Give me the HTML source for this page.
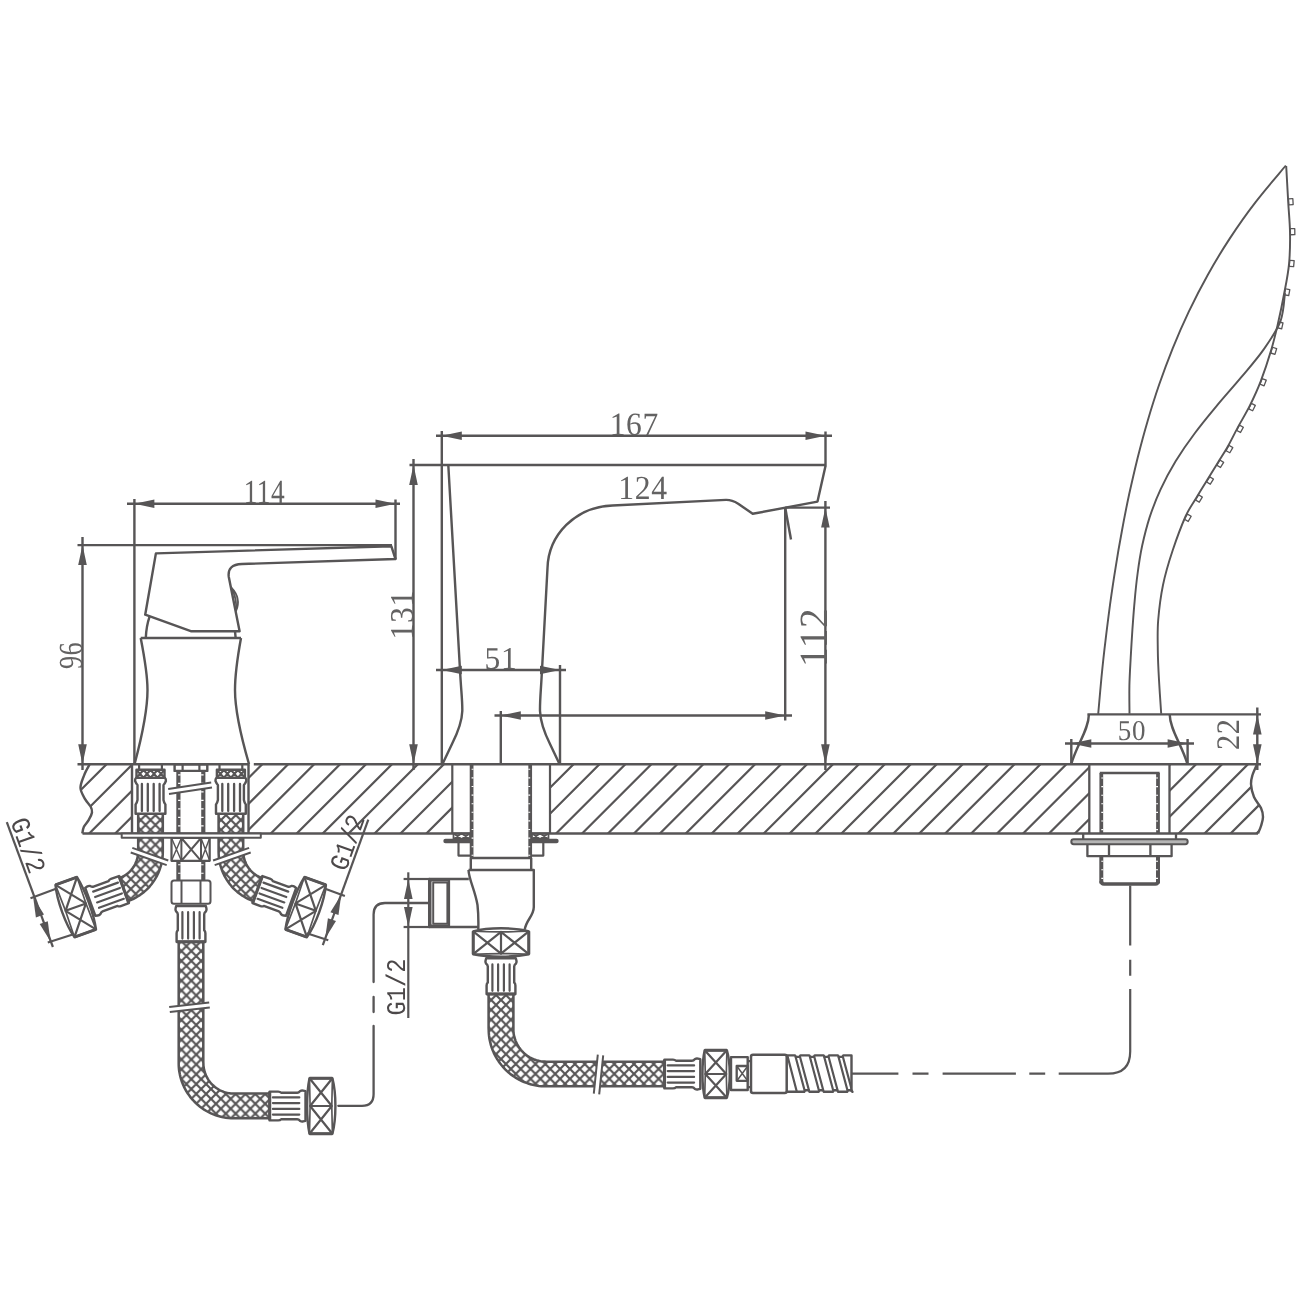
<!DOCTYPE html>
<html><head><meta charset="utf-8"><title>Dimension drawing</title>
<style>
html,body{margin:0;padding:0;background:#fff;}
svg{display:block;will-change:transform;}
text{text-rendering:geometricPrecision;}
.num{font-family:"Liberation Serif","DejaVu Serif",serif;fill:#636262;stroke:none;letter-spacing:0.7px;}
.g{font-family:"Liberation Mono","DejaVu Sans Mono",monospace;fill:#4c4849;stroke:none;stroke-width:0;stroke-linejoin:round;}
</style></head>
<body>
<svg width="1300" height="1300" viewBox="0 0 1300 1300" fill="none" stroke="#575556" stroke-width="2" stroke-linecap="butt" stroke-linejoin="round">
<rect x="0" y="0" width="1300" height="1300" fill="#fff" stroke="none"/>
<g id="slab">
<clipPath id="slabclip"><path d="M89.7 764.3 L84.2 775.1 L80.5 788 L85.1 799.1 L90.6 806.5 L92 812.5 L88.8 819.8 L83.9 826.8 L82.3 833.5 L132 833.5 L132 764.3 Z M248.5 764.3 L452.3 764.3 L452.3 833.5 L248.5 833.5 Z M550 764.3 L1090 764.3 L1090 833.5 L550 833.5 Z M1170 764.3 L1257 764.3 L1252.5 775 L1251 784 L1254 797 L1261 808 L1263 817 L1261 826 L1258 833.5 L1170 833.5 Z"/></clipPath>
<g clip-path="url(#slabclip)">
<path d="M9.4 835.5L82.6 762.3M35.3 835.5L108.5 762.3M61.3 835.5L134.5 762.3M87.2 835.5L160.4 762.3M113.2 835.5L186.4 762.3M139.1 835.5L212.3 762.3M165 835.5L238.2 762.3M191 835.5L264.2 762.3M216.9 835.5L290.1 762.3M242.9 835.5L316.1 762.3M268.8 835.5L342 762.3M294.7 835.5L367.9 762.3M320.7 835.5L393.9 762.3M346.6 835.5L419.8 762.3M372.6 835.5L445.8 762.3M398.5 835.5L471.7 762.3M424.4 835.5L497.6 762.3M450.4 835.5L523.6 762.3M476.3 835.5L549.5 762.3M502.3 835.5L575.5 762.3M528.2 835.5L601.4 762.3M554.1 835.5L627.3 762.3M580.1 835.5L653.3 762.3M606 835.5L679.2 762.3M632 835.5L705.2 762.3M657.9 835.5L731.1 762.3M683.8 835.5L757 762.3M709.8 835.5L783 762.3M735.7 835.5L808.9 762.3M761.7 835.5L834.9 762.3M787.6 835.5L860.8 762.3M813.5 835.5L886.7 762.3M839.5 835.5L912.7 762.3M865.4 835.5L938.6 762.3M891.4 835.5L964.6 762.3M917.3 835.5L990.5 762.3M943.2 835.5L1016.4 762.3M969.2 835.5L1042.4 762.3M995.1 835.5L1068.3 762.3M1021.1 835.5L1094.3 762.3M1047 835.5L1120.2 762.3M1072.9 835.5L1146.1 762.3M1098.9 835.5L1172.1 762.3M1124.8 835.5L1198 762.3M1150.8 835.5L1224 762.3M1176.7 835.5L1249.9 762.3M1202.6 835.5L1275.8 762.3M1228.6 835.5L1301.8 762.3M1254.5 835.5L1327.7 762.3" stroke-width="2.2"/>
</g>
<line x1="77.5" y1="764.3" x2="249.5" y2="764.3" stroke-width="2.42"/>
<line x1="253.8" y1="764.3" x2="1261" y2="764.3" stroke-width="2.42"/>
<line x1="82.5" y1="833.5" x2="470.5" y2="833.5" stroke-width="2.42"/>
<line x1="530.5" y1="833.5" x2="1258" y2="833.5" stroke-width="2.42"/>
<path d="M89.7 764.3 C88.8 766.1 85.7 771.1 84.2 775.1 C82.7 779.1 80.3 784 80.5 788 C80.7 792 83.4 796 85.1 799.1 C86.8 802.2 89.4 804.3 90.6 806.5 C91.8 808.7 92.3 810.3 92 812.5 C91.7 814.7 90.1 817.4 88.8 819.8 C87.5 822.2 85 824.5 83.9 826.8 C82.8 829.1 82.6 832.4 82.3 833.5" stroke-width="2.42"/>
<path d="M1257 764.3 C1256.2 766.1 1253.5 771.7 1252.5 775 C1251.5 778.3 1250.8 780.3 1251 784 C1251.2 787.7 1252.3 793 1254 797 C1255.7 801 1259.5 804.7 1261 808 C1262.5 811.3 1263 814 1263 817 C1263 820 1261.8 823.2 1261 826 C1260.2 828.8 1258.5 832.2 1258 833.5" stroke-width="2.42"/>
</g>
<g id="faucet">
<path d="M155.9 553.4 L391.3 546.2 L395.5 559 L242 564 Q227 564.5 228.8 577 L239.6 631.2 L190.8 631.2 L145.2 614.7 Z" stroke-width="2.42"/>
<path d="M231.4 587.5 Q241.5 598 236.2 610.8 Q236.8 598 231.4 587.5 Z" stroke-width="1.65" fill="#575556" fill-opacity="0.5"/>
<path d="M149.5 616.8 Q146.3 626 145.8 637.7" stroke-width="2.42"/>
<line x1="235" y1="631.2" x2="235.6" y2="637.7" stroke-width="2.42"/>
<path d="M140.7 638 L241 638" stroke-width="2.42"/>
<path d="M140.7 638 C145 660 147.5 675 147.5 690 C147.5 712 141 740 134.6 764" stroke-width="2.42"/>
<path d="M241 638 C237 660 235 675 235 690 C235 712 242 740 249 764" stroke-width="2.42"/>
<line x1="134.4" y1="499" x2="134.4" y2="764" stroke-width="2.42"/>
<line x1="127" y1="503.8" x2="400" y2="503.8" stroke-width="2.42"/>
<polygon points="134.4,503.8 154.4,499.5 154.4,508.1" fill="#575556" stroke="none"/>
<polygon points="395.5,503.8 375.5,508.1 375.5,499.5" fill="#575556" stroke="none"/>
<line x1="395.5" y1="499.5" x2="395.5" y2="559" stroke-width="2.42"/>
<text class="num" transform="translate(264.5 503.4) scale(0.81 1)" font-size="33.8" text-anchor="middle">114</text>
<line x1="77.5" y1="545.1" x2="392" y2="545.1" stroke-width="2.42"/>
<line x1="82.5" y1="537" x2="82.5" y2="770" stroke-width="2.42"/>
<polygon points="82.5,545.1 86.8,565.1 78.2,565.1" fill="#575556" stroke="none"/>
<polygon points="82.5,764.3 78.2,744.3 86.8,744.3" fill="#575556" stroke="none"/>
<text class="num" transform="translate(81.7 655.4) rotate(-90) scale(0.78 1)" font-size="33.7" text-anchor="middle">96</text>
</g>
<g id="spout">
<path d="M409.5 465 L825.5 465" stroke-width="2.42"/>
<path d="M448.3 465 L460 670 C461 690 462.5 700 462.3 711 C462 722 458 732 452 744 L442.5 764" stroke-width="2.42"/>
<path d="M825.5 466 L817.5 501.6 L752.7 513.8 L738.2 503.7 Q732 499.8 726 499.9 L612.5 505.5 C575 507 548.5 535 547.5 568 L542 670 C541 690 539.8 700 540 711 C540.5 722 544 732 550 744 L559.5 764" stroke-width="2.42"/>
<line x1="441.8" y1="431" x2="441.8" y2="764" stroke-width="2.42"/>
<line x1="436" y1="435.8" x2="832" y2="435.8" stroke-width="2.42"/>
<polygon points="441.8,435.8 461.8,431.5 461.8,440.1" fill="#575556" stroke="none"/>
<polygon points="825.5,435.8 805.5,440.1 805.5,431.5" fill="#575556" stroke="none"/>
<line x1="825.5" y1="431.5" x2="825.5" y2="466.5" stroke-width="2.42"/>
<text class="num" transform="translate(634.3 435) scale(0.97 1)" font-size="32.5" text-anchor="middle">167</text>
<line x1="413.5" y1="459" x2="413.5" y2="770" stroke-width="2.42"/>
<polygon points="413.5,465 417.8,485 409.2,485" fill="#575556" stroke="none"/>
<polygon points="413.5,764.3 409.2,744.3 417.8,744.3" fill="#575556" stroke="none"/>
<text class="num" transform="translate(413.4 614.8) rotate(-90) scale(0.95 1)" font-size="33.3" text-anchor="middle">131</text>
<line x1="436" y1="670" x2="566" y2="670" stroke-width="2.42"/>
<polygon points="441.8,670 461.8,665.7 461.8,674.3" fill="#575556" stroke="none"/>
<polygon points="560,670 540,674.3 540,665.7" fill="#575556" stroke="none"/>
<line x1="560" y1="665" x2="560" y2="764" stroke-width="2.42"/>
<text class="num" transform="translate(501 669) scale(0.99 1)" font-size="31.8" text-anchor="middle">51</text>
<line x1="494.5" y1="715.5" x2="792" y2="715.5" stroke-width="2.42"/>
<polygon points="500.8,715.5 520.8,711.2 520.8,719.8" fill="#575556" stroke="none"/>
<polygon points="785.2,715.5 765.2,719.8 765.2,711.2" fill="#575556" stroke="none"/>
<line x1="500.8" y1="711" x2="500.8" y2="764" stroke-width="2.42"/>
<line x1="785.2" y1="507.6" x2="785.2" y2="720.5" stroke-width="2.42"/>
<line x1="785.2" y1="507.6" x2="791" y2="539.5" stroke-width="2.42"/>
<text class="num" transform="translate(643 499.4) scale(0.94 1)" font-size="33.7" text-anchor="middle">124</text>
<line x1="785.2" y1="507.6" x2="830" y2="507.6" stroke-width="2.42"/>
<line x1="825.4" y1="501" x2="825.4" y2="770" stroke-width="2.42"/>
<polygon points="825.4,507.6 829.7,527.6 821.1,527.6" fill="#575556" stroke="none"/>
<polygon points="825.4,764.3 821.1,744.3 829.7,744.3" fill="#575556" stroke="none"/>
<text class="num" transform="translate(826.5 637.3) rotate(-90) scale(0.98 1)" font-size="40" text-anchor="middle">112</text>
</g>
<g id="shower">
<path d="M1285.8 165.5 C1280.8 171.6 1264.9 189.9 1255.6 202.1 C1246.2 214.2 1237.7 226.4 1229.7 238.6 C1221.7 250.8 1214.4 263 1207.6 275.2 C1200.8 287.3 1194.6 299.5 1188.8 311.7 C1183 323.9 1177.7 336.1 1172.7 348.3 C1167.8 360.5 1163.3 372.6 1159.1 384.8 C1154.9 397 1151.1 409.2 1147.5 421.4 C1143.9 433.6 1140.7 445.7 1137.6 457.9 C1134.6 470.1 1131.8 482.3 1129.1 494.5 C1126.5 506.7 1124.1 518.8 1121.9 531 C1119.6 543.2 1117.5 555.4 1115.6 567.6 C1113.6 579.8 1111.8 592 1110.1 604.1 C1108.5 616.3 1106.9 628.5 1105.5 640.7 C1104 652.9 1102.7 665.1 1101.5 677.2 C1100.3 689.4 1098.8 707.7 1098.2 713.8" stroke-width="1.93"/>
<path d="M1286.2 166 C1286.5 172 1287.6 190.9 1288.2 201.9 C1288.8 212.8 1289.8 221.5 1290 231.7 C1290.2 242 1290 253.3 1289.1 263.3 C1288.2 273.3 1286.5 281.5 1284.5 291.7 C1282.6 302 1279.9 315.1 1277.7 324.8 C1275.4 334.5 1274 340.6 1271.2 350.1 C1268.4 359.5 1264.3 371.9 1260.7 381.3 C1257.1 390.6 1253.5 398.2 1249.7 405.9 C1245.8 413.7 1241.5 420.6 1237.7 427.6 C1234 434.5 1230.4 442 1227.1 447.8 C1223.8 453.6 1221.2 457.2 1218 462.4 C1214.8 467.7 1211.3 473.4 1207.8 479.1 C1204.2 484.9 1200.4 490.9 1196.7 497.2 C1193 503.4 1189.5 507.7 1185.5 516.5 C1181.6 525.3 1176.6 538.6 1172.8 550 C1169 561.4 1165.4 573.3 1163 585 C1160.6 596.7 1159.1 609.2 1158.2 620 C1157.3 630.8 1157.7 640 1157.8 650 C1157.9 660 1158.4 669.4 1159 680 C1159.6 690.6 1160.8 708.2 1161.2 713.8" stroke-width="1.93"/>
<path d="M1285 293 C1284.2 297.7 1284 311.7 1280.5 321.1 C1277 330.4 1270.4 339.8 1263.9 349.1 C1257.4 358.5 1249.1 367.8 1241.3 377.2 C1233.6 386.5 1225 395.9 1217.3 405.2 C1209.5 414.6 1201.7 423.9 1194.8 433.3 C1187.8 442.6 1181.3 452 1175.6 461.3 C1169.9 470.7 1164.9 480 1160.6 489.4 C1156.2 498.7 1152.7 508.1 1149.6 517.4 C1146.6 526.8 1144.3 536.1 1142.2 545.5 C1140.2 554.8 1138.8 564.2 1137.6 573.5 C1136.3 582.9 1135.4 592.2 1134.6 601.6 C1133.7 610.9 1133.1 620.3 1132.4 629.6 C1131.8 639 1131.2 648.3 1130.7 657.7 C1130.2 667 1129.6 676.4 1129.4 685.7 C1129.2 695.1 1129.5 709.1 1129.5 713.8" stroke-width="1.93"/>
<rect x="-2.2" y="-3" width="4.4" height="6" stroke-width="1.3" transform="translate(1290.8 201.7) rotate(-3.4)"/>
<rect x="-2.2" y="-3" width="4.4" height="6" stroke-width="1.3" transform="translate(1292.6 231.7) rotate(-0.8)"/>
<rect x="-2.2" y="-3" width="4.4" height="6" stroke-width="1.3" transform="translate(1291.7 263.5) rotate(5.2)"/>
<rect x="-2.2" y="-3" width="4.4" height="6" stroke-width="1.3" transform="translate(1287.1 292.2) rotate(10.5)"/>
<rect x="-2.2" y="-3" width="4.4" height="6" stroke-width="1.3" transform="translate(1280.2 325.4) rotate(12.9)"/>
<rect x="-2.2" y="-3" width="4.4" height="6" stroke-width="1.3" transform="translate(1273.7 350.8) rotate(16.8)"/>
<rect x="-2.2" y="-3" width="4.4" height="6" stroke-width="1.3" transform="translate(1263.1 382.2) rotate(21.1)"/>
<rect x="-2.2" y="-3" width="4.4" height="6" stroke-width="1.3" transform="translate(1252 407.1) rotate(26.4)"/>
<rect x="-2.2" y="-3" width="4.4" height="6" stroke-width="1.3" transform="translate(1240 428.8) rotate(28.3)"/>
<rect x="-2.2" y="-3" width="4.4" height="6" stroke-width="1.3" transform="translate(1229.4 449.1) rotate(29.5)"/>
<rect x="-2.2" y="-3" width="4.4" height="6" stroke-width="1.3" transform="translate(1220.2 463.8) rotate(31.7)"/>
<rect x="-2.2" y="-3" width="4.4" height="6" stroke-width="1.3" transform="translate(1210 480.5) rotate(31.5)"/>
<rect x="-2.2" y="-3" width="4.4" height="6" stroke-width="1.3" transform="translate(1198.9 498.5) rotate(30.8)"/>
<rect x="-2.2" y="-3" width="4.4" height="6" stroke-width="1.3" transform="translate(1187.8 517.8) rotate(29.9)"/>
<path d="M1087.4 714.4 L1261 714.4" stroke-width="2.42"/>
<path d="M1088.9 714.4 C1088.6 730 1076.6 745 1071.3 764" stroke-width="2.42"/>
<path d="M1169.7 714.4 C1170 730 1182 745 1187.4 764" stroke-width="2.42"/>
<line x1="1065" y1="743.5" x2="1194" y2="743.5" stroke-width="2.42"/>
<polygon points="1071.3,743.5 1091.3,739.2 1091.3,747.8" fill="#575556" stroke="none"/>
<polygon points="1187.6,743.5 1167.6,747.8 1167.6,739.2" fill="#575556" stroke="none"/>
<line x1="1071.3" y1="739" x2="1071.3" y2="764" stroke-width="2.42"/>
<line x1="1187.6" y1="739" x2="1187.6" y2="764" stroke-width="2.42"/>
<text class="num" transform="translate(1132 740.2) scale(0.94 1)" font-size="28.7" text-anchor="middle">50</text>
<line x1="1257.3" y1="707.5" x2="1257.3" y2="770" stroke-width="2.42"/>
<polygon points="1257.3,714.4 1261.6,734.4 1253,734.4" fill="#575556" stroke="none"/>
<polygon points="1257.3,764.3 1253,744.3 1261.6,744.3" fill="#575556" stroke="none"/>
<text class="num" transform="translate(1239.3 734.2) rotate(-90) scale(0.93 1)" font-size="32.8" text-anchor="middle">22</text>
</g>
<g id="faucet-under">
<line x1="132" y1="764.3" x2="132" y2="833.5" stroke-width="2.42"/>
<line x1="248.5" y1="764.3" x2="248.5" y2="833.5" stroke-width="2.42"/>
<pattern id="br1" patternUnits="userSpaceOnUse" x="150.5" y="820" width="9.85" height="9.85"><path d="M-1 -1L10.85 10.85M10.85 -1L-1 10.85" stroke-width="2.15" stroke="#575556"/></pattern>
<polygon points="138.2,813.4 138.2,815.4 138.2,817.5 138.2,819.5 138.2,821.5 138.2,823.6 138.2,825.6 138.2,827.7 138.2,829.7 138.2,831.7 138.2,833.8 138.2,835.8 138.2,837.8 138.2,839.9 138.2,841.9 138.2,844 138.2,846 138.2,848 138.2,850.1 138.1,851.9 138.1,853.3 138,854.7 137.8,856.1 137.5,857.5 137.2,858.9 136.8,860.3 136.3,861.6 135.7,862.9 135.1,864.2 134.5,865.4 133.7,866.6 132.9,867.8 132.1,868.9 131.2,870 130.2,871.1 129.2,872.1 128.2,873 127.1,873.9 125.9,874.7 124.7,875.5 123.5,876.2 122.2,876.9 120.9,877.4 119.6,878 128.1,901.2 130.5,900.2 133,899.1 135.3,897.9 137.6,896.5 139.9,895.1 142,893.5 144.1,891.9 146.1,890.1 148,888.3 149.8,886.3 151.5,884.3 153.1,882.1 154.6,879.9 155.9,877.7 157.2,875.3 158.3,872.9 159.3,870.5 160.2,867.9 161,865.4 161.6,862.8 162.1,860.2 162.5,857.6 162.7,854.9 162.8,852.3 162.8,850.1 162.8,848 162.8,846 162.8,844 162.8,841.9 162.8,839.9 162.8,837.8 162.8,835.8 162.8,833.8 162.8,831.7 162.8,829.7 162.8,827.7 162.8,825.6 162.8,823.6 162.8,821.5 162.8,819.5 162.8,817.5 162.8,815.4 162.8,813.4" fill="url(#br1)" stroke="none"/>
<path d="M138.2 813.4L138.2 815.4L138.2 817.5L138.2 819.5L138.2 821.5L138.2 823.6L138.2 825.6L138.2 827.7L138.2 829.7L138.2 831.7L138.2 833.8L138.2 835.8L138.2 837.8L138.2 839.9L138.2 841.9L138.2 844L138.2 846L138.2 848L138.2 850.1L138.1 851.9L138.1 853.3L138 854.7L137.8 856.1L137.5 857.5L137.2 858.9L136.8 860.3L136.3 861.6L135.7 862.9L135.1 864.2L134.5 865.4L133.7 866.6L132.9 867.8L132.1 868.9L131.2 870L130.2 871.1L129.2 872.1L128.2 873L127.1 873.9L125.9 874.7L124.7 875.5L123.5 876.2L122.2 876.9L120.9 877.4L119.6 878" stroke-width="2.53"/>
<path d="M162.8 813.4L162.8 815.4L162.8 817.5L162.8 819.5L162.8 821.5L162.8 823.6L162.8 825.6L162.8 827.7L162.8 829.7L162.8 831.7L162.8 833.8L162.8 835.8L162.8 837.8L162.8 839.9L162.8 841.9L162.8 844L162.8 846L162.8 848L162.8 850.1L162.8 852.3L162.7 854.9L162.5 857.6L162.1 860.2L161.6 862.8L161 865.4L160.2 867.9L159.3 870.5L158.3 872.9L157.2 875.3L155.9 877.7L154.6 879.9L153.1 882.1L151.5 884.3L149.8 886.3L148 888.3L146.1 890.1L144.1 891.9L142 893.5L139.9 895.1L137.6 896.5L135.3 897.9L133 899.1L130.5 900.2L128.1 901.2" stroke-width="2.53"/>
<g transform="translate(150.5 0)">
<path d="M-11.4 764.3 L-11.4 769.5 M11.4 764.3 L11.4 769.5" stroke-width="2.2"/>
<rect x="-14" y="769.7" width="28" height="8.2" stroke-width="2.42" fill="#fff"/>
<path d="M-14 770 L-7 777.6 M-7 770 L-14 777.6M-7 770 L0 777.6 M0 770 L-7 777.6M0 770 L7 777.6 M7 770 L0 777.6M7 770 L14 777.6 M14 770 L7 777.6" stroke-width="2.09"/>
<path d="M-14.4 777.9 L14.4 777.9 Q15.6 779 15.4 781 Q14.4 783.5 13 785 L13 800 Q13.6 803 14.9 804.5 L14.9 813.8 L-14.9 813.8 L-14.9 804.5 Q-13.6 803 -13 800 L-13 785 Q-14.4 783.5 -15.4 781 Q-15.6 779 -14.4 777.9 Z" stroke-width="2.42" fill="#fff"/>
<path d="M-8.6 784 L-8.6 811M-2.7 784 L-2.7 811M3.2 784 L3.2 811M9.1 784 L9.1 811" stroke-width="2.31" stroke-linecap="round"/>
</g>
<g transform="translate(123.9 889.6) rotate(160)">
<path d="M0 -14.399999999999999 L8.5 -14.399999999999999 Q10.5 -14.399999999999999 11.5 -13.2 L27.5 -13.2 Q29 -13.2 30.5 -15.0 Q32 -15.799999999999999 33.5 -15.399999999999999 L35.8 -14.799999999999999 L35.8 14.799999999999999 L33.5 15.399999999999999 Q32 15.799999999999999 30.5 15.0 Q29 13.2 27.5 13.2 L11.5 13.2 Q10.5 14.399999999999999 8.5 14.399999999999999 L0 14.399999999999999 Z" stroke-width="2.42" fill="#fff"/>
<line x1="0" y1="-14.4" x2="0" y2="14.4" stroke-width="3.08"/>
<path d="M3.2 -8.6 L29.6 -8.6M3.2 -2.9 L29.6 -2.9M3.2 2.9 L29.6 2.9M3.2 8.6 L29.6 8.6" stroke-width="2.2" stroke-linecap="round"/>
<path d="M39.8 -27.8 L62.7 -27.8 C66.7 -12.5 66.7 12.5 62.7 27.8 L39.8 27.8 C36.6 12.5 36.6 -12.5 39.8 -27.8 Z" stroke-width="2.42" fill="#fff"/>
<path d="M39.8 -27.8 L62.7 -27.8 M39.8 27.8 L62.7 27.8" stroke-width="2.97"/>
<path d="M39.8 -27.8 Q41 0 39.8 27.8 M62.7 -27.8 Q61.5 0 62.7 27.8" stroke-width="1.65"/>
<path d="M40.4 0 L62.1 0 M39.8 -27.8 L62.1 0 L39.8 27.8 M62.7 -27.8 L40.4 0 L62.7 27.8" stroke-width="2.2"/>
</g>
<pattern id="br2" patternUnits="userSpaceOnUse" x="230.9" y="820" width="9.85" height="9.85"><path d="M-1 -1L10.85 10.85M10.85 -1L-1 10.85" stroke-width="2.15" stroke="#575556"/></pattern>
<polygon points="218.6,813.4 218.6,815.4 218.6,817.5 218.6,819.5 218.6,821.5 218.6,823.6 218.6,825.6 218.6,827.7 218.6,829.7 218.6,831.7 218.6,833.8 218.6,835.8 218.6,837.8 218.6,839.9 218.6,841.9 218.6,844 218.6,846 218.6,848 218.6,850.1 218.6,852.3 218.7,854.9 218.9,857.6 219.3,860.2 219.8,862.8 220.4,865.4 221.2,867.9 222.1,870.5 223.1,872.9 224.2,875.3 225.5,877.7 226.8,879.9 228.3,882.1 229.9,884.3 231.6,886.3 233.4,888.3 235.3,890.1 237.3,891.9 239.4,893.5 241.5,895.1 243.8,896.5 246.1,897.9 248.4,899.1 250.9,900.2 253.3,901.2 261.8,878 260.5,877.4 259.2,876.9 257.9,876.2 256.7,875.5 255.5,874.7 254.3,873.9 253.2,873 252.2,872.1 251.2,871.1 250.2,870 249.3,868.9 248.5,867.8 247.7,866.6 246.9,865.4 246.3,864.2 245.7,862.9 245.1,861.6 244.6,860.3 244.2,858.9 243.9,857.5 243.6,856.1 243.4,854.7 243.3,853.3 243.3,851.9 243.2,850.1 243.2,848 243.2,846 243.2,844 243.2,841.9 243.2,839.9 243.2,837.8 243.2,835.8 243.2,833.8 243.2,831.7 243.2,829.7 243.2,827.7 243.2,825.6 243.2,823.6 243.2,821.5 243.2,819.5 243.2,817.5 243.2,815.4 243.2,813.4" fill="url(#br2)" stroke="none"/>
<path d="M218.6 813.4L218.6 815.4L218.6 817.5L218.6 819.5L218.6 821.5L218.6 823.6L218.6 825.6L218.6 827.7L218.6 829.7L218.6 831.7L218.6 833.8L218.6 835.8L218.6 837.8L218.6 839.9L218.6 841.9L218.6 844L218.6 846L218.6 848L218.6 850.1L218.6 852.3L218.7 854.9L218.9 857.6L219.3 860.2L219.8 862.8L220.4 865.4L221.2 867.9L222.1 870.5L223.1 872.9L224.2 875.3L225.5 877.7L226.8 879.9L228.3 882.1L229.9 884.3L231.6 886.3L233.4 888.3L235.3 890.1L237.3 891.9L239.4 893.5L241.5 895.1L243.8 896.5L246.1 897.9L248.4 899.1L250.9 900.2L253.3 901.2" stroke-width="2.53"/>
<path d="M243.2 813.4L243.2 815.4L243.2 817.5L243.2 819.5L243.2 821.5L243.2 823.6L243.2 825.6L243.2 827.7L243.2 829.7L243.2 831.7L243.2 833.8L243.2 835.8L243.2 837.8L243.2 839.9L243.2 841.9L243.2 844L243.2 846L243.2 848L243.2 850.1L243.3 851.9L243.3 853.3L243.4 854.7L243.6 856.1L243.9 857.5L244.2 858.9L244.6 860.3L245.1 861.6L245.7 862.9L246.3 864.2L246.9 865.4L247.7 866.6L248.5 867.8L249.3 868.9L250.2 870L251.2 871.1L252.2 872.1L253.2 873L254.3 873.9L255.5 874.7L256.7 875.5L257.9 876.2L259.2 876.9L260.5 877.4L261.8 878" stroke-width="2.53"/>
<g transform="translate(230.9 0)">
<path d="M-11.4 764.3 L-11.4 769.5 M11.4 764.3 L11.4 769.5" stroke-width="2.2"/>
<rect x="-14" y="769.7" width="28" height="8.2" stroke-width="2.42" fill="#fff"/>
<path d="M-14 770 L-7 777.6 M-7 770 L-14 777.6M-7 770 L0 777.6 M0 770 L-7 777.6M0 770 L7 777.6 M7 770 L0 777.6M7 770 L14 777.6 M14 770 L7 777.6" stroke-width="2.09"/>
<path d="M-14.4 777.9 L14.4 777.9 Q15.6 779 15.4 781 Q14.4 783.5 13 785 L13 800 Q13.6 803 14.9 804.5 L14.9 813.8 L-14.9 813.8 L-14.9 804.5 Q-13.6 803 -13 800 L-13 785 Q-14.4 783.5 -15.4 781 Q-15.6 779 -14.4 777.9 Z" stroke-width="2.42" fill="#fff"/>
<path d="M-8.6 784 L-8.6 811M-2.7 784 L-2.7 811M3.2 784 L3.2 811M9.1 784 L9.1 811" stroke-width="2.31" stroke-linecap="round"/>
</g>
<g transform="translate(257.5 889.6) rotate(20)">
<path d="M0 -14.399999999999999 L8.5 -14.399999999999999 Q10.5 -14.399999999999999 11.5 -13.2 L27.5 -13.2 Q29 -13.2 30.5 -15.0 Q32 -15.799999999999999 33.5 -15.399999999999999 L35.8 -14.799999999999999 L35.8 14.799999999999999 L33.5 15.399999999999999 Q32 15.799999999999999 30.5 15.0 Q29 13.2 27.5 13.2 L11.5 13.2 Q10.5 14.399999999999999 8.5 14.399999999999999 L0 14.399999999999999 Z" stroke-width="2.42" fill="#fff"/>
<line x1="0" y1="-14.4" x2="0" y2="14.4" stroke-width="3.08"/>
<path d="M3.2 -8.6 L29.6 -8.6M3.2 -2.9 L29.6 -2.9M3.2 2.9 L29.6 2.9M3.2 8.6 L29.6 8.6" stroke-width="2.2" stroke-linecap="round"/>
<path d="M39.8 -27.8 L62.7 -27.8 C66.7 -12.5 66.7 12.5 62.7 27.8 L39.8 27.8 C36.6 12.5 36.6 -12.5 39.8 -27.8 Z" stroke-width="2.42" fill="#fff"/>
<path d="M39.8 -27.8 L62.7 -27.8 M39.8 27.8 L62.7 27.8" stroke-width="2.97"/>
<path d="M39.8 -27.8 Q41 0 39.8 27.8 M62.7 -27.8 Q61.5 0 62.7 27.8" stroke-width="1.65"/>
<path d="M40.4 0 L62.1 0 M39.8 -27.8 L62.1 0 L39.8 27.8 M62.7 -27.8 L40.4 0 L62.7 27.8" stroke-width="2.2"/>
</g>
<polygon points="130.7,852.5 166.7,865.1 168.3,860.5 132.3,847.9" fill="#fff" stroke="none"/>
<line x1="130.7" y1="852.5" x2="166.7" y2="865.1" stroke-width="1.98"/>
<line x1="132.3" y1="847.9" x2="168.3" y2="860.5" stroke-width="1.98"/>
<polygon points="249.1,847.9 213.1,860.5 214.7,865.1 250.7,852.5" fill="#fff" stroke="none"/>
<line x1="249.1" y1="847.9" x2="213.1" y2="860.5" stroke-width="1.98"/>
<line x1="250.7" y1="852.5" x2="214.7" y2="865.1" stroke-width="1.98"/>
<rect x="174.6" y="764.3" width="32.7" height="6.6" stroke-width="2.42"/>
<line x1="182.6" y1="764.3" x2="182.6" y2="770.9" stroke-width="2.2"/>
<line x1="199.4" y1="764.3" x2="199.4" y2="770.9" stroke-width="2.2"/>
<line x1="178.4" y1="770.9" x2="178.4" y2="833.5" stroke-width="4.18"/>
<path d="M178.1 774.9 L180.6 774.9M178.1 783.4 L180.6 783.4M178.1 791.9 L180.6 791.9M178.1 800.4 L180.6 800.4M178.1 808.9 L180.6 808.9M178.1 817.4 L180.6 817.4M178.1 825.9 L180.6 825.9" stroke-width="1.1" stroke="#fff"/>
<line x1="203.3" y1="770.9" x2="203.3" y2="833.5" stroke-width="4.18"/>
<path d="M203.6 774.9 L201.1 774.9M203.6 783.4 L201.1 783.4M203.6 791.9 L201.1 791.9M203.6 800.4 L201.1 800.4M203.6 808.9 L201.1 808.9M203.6 817.4 L201.1 817.4M203.6 825.9 L201.1 825.9" stroke-width="1.1" stroke="#fff"/>
<polygon points="169,794 212,787.6 211.2,782.6 168.2,789" fill="#fff" stroke="none"/>
<line x1="169" y1="794" x2="212" y2="787.6" stroke-width="1.98"/>
<line x1="168.2" y1="789" x2="211.2" y2="782.6" stroke-width="1.98"/>
<rect x="121.7" y="833.5" width="139.1" height="4.3" stroke-width="1.98" fill="#fff"/>
<rect x="171.5" y="838" width="38.2" height="22.8" stroke-width="2.2" fill="#fff"/>
<path d="M181.4 838 L181.4 860.8 M201 838 L201 860.8 M181.4 838 L201 860.8 M201 838 L181.4 860.8" stroke-width="1.98"/>
<path d="M171.5 838 L181.4 860.8 M181.4 838 L171.5 860.8 M201 838 L209.7 860.8 M209.7 838 L201 860.8" stroke-width="1.43"/>
<line x1="178.4" y1="860.8" x2="178.4" y2="880.5" stroke-width="4.18"/>
<path d="M178.1 864.8 L180.6 864.8M178.1 873.3 L180.6 873.3" stroke-width="1.1" stroke="#fff"/>
<line x1="203.3" y1="860.8" x2="203.3" y2="880.5" stroke-width="4.18"/>
<path d="M203.6 864.8 L201.1 864.8M203.6 873.3 L201.1 873.3" stroke-width="1.1" stroke="#fff"/>
<pattern id="br3" patternUnits="userSpaceOnUse" x="191.3" y="951.1" width="9.85" height="9.85"><path d="M-1 -1L10.85 10.85M10.85 -1L-1 10.85" stroke-width="2.15" stroke="#575556"/></pattern>
<polygon points="178.7,941.8 178.7,943.8 178.7,945.8 178.7,947.8 178.7,949.8 178.7,951.8 178.7,953.8 178.7,955.8 178.7,957.8 178.7,959.8 178.7,961.8 178.7,963.8 178.7,965.8 178.7,967.9 178.7,969.9 178.7,971.9 178.7,973.9 178.7,975.9 178.7,977.9 178.7,979.9 178.7,981.9 178.7,983.9 178.7,985.9 178.7,987.9 178.7,989.9 178.7,991.9 178.7,993.9 178.7,995.9 178.7,997.9 178.7,999.9 178.7,1001.9 178.7,1003.9 178.7,1005.9 178.7,1007.9 178.7,1009.9 178.7,1011.9 178.7,1013.9 178.7,1015.9 178.7,1018 178.7,1020 178.7,1022 178.7,1024 178.7,1026 178.7,1028 178.7,1030 178.7,1032 178.7,1034 178.7,1036 178.7,1038 178.7,1040 178.7,1042 178.7,1044 178.7,1046 178.7,1048 178.7,1050 178.7,1052 178.7,1054 178.7,1056 178.7,1058 178.7,1060 178.7,1062 178.7,1064.3 178.8,1066.9 179,1069.5 179.4,1072 179.9,1074.6 180.5,1077.1 181.2,1079.6 182,1082 183,1084.4 184,1086.8 185.2,1089.1 186.4,1091.3 187.8,1093.5 189.3,1095.6 190.8,1097.7 192.5,1099.6 194.3,1101.5 196.1,1103.3 198,1105.1 200,1106.7 202.1,1108.2 204.2,1109.7 206.4,1111 208.7,1112.2 211,1113.4 213.4,1114.4 215.8,1115.3 218.3,1116.1 220.8,1116.7 223.3,1117.3 225.8,1117.7 228.4,1118.1 230.9,1118.3 233.5,1118.3 235.6,1118.3 237.6,1118.3 239.6,1118.3 241.6,1118.3 243.6,1118.3 245.7,1118.3 247.7,1118.3 249.7,1118.3 251.7,1118.3 253.7,1118.3 255.7,1118.3 257.7,1118.3 259.7,1118.3 261.7,1118.3 263.7,1118.3 265.7,1118.3 267.7,1118.3 269.7,1118.3 269.7,1093.6 267.7,1093.6 265.7,1093.6 263.7,1093.6 261.7,1093.6 259.7,1093.6 257.7,1093.6 255.7,1093.6 253.7,1093.6 251.7,1093.6 249.7,1093.6 247.7,1093.6 245.7,1093.6 243.6,1093.6 241.6,1093.6 239.6,1093.6 237.6,1093.6 235.6,1093.6 233.7,1093.6 232.3,1093.6 230.9,1093.5 229.5,1093.3 228.1,1093.1 226.7,1092.8 225.3,1092.4 223.9,1091.9 222.6,1091.4 221.3,1090.9 220,1090.3 218.7,1089.6 217.5,1088.8 216.3,1088 215.2,1087.2 214.1,1086.3 213,1085.3 212,1084.3 211,1083.3 210.1,1082.2 209.2,1081.1 208.4,1079.9 207.7,1078.7 207,1077.4 206.3,1076.2 205.7,1074.9 205.2,1073.5 204.8,1072.2 204.4,1070.8 204,1069.4 203.8,1068 203.6,1066.6 203.4,1065.2 203.4,1063.7 203.3,1062 203.3,1060 203.3,1058 203.3,1056 203.3,1054 203.3,1052 203.3,1050 203.3,1048 203.3,1046 203.3,1044 203.3,1042 203.3,1040 203.3,1038 203.3,1036 203.3,1034 203.3,1032 203.3,1030 203.3,1028 203.3,1026 203.3,1024 203.3,1022 203.3,1020 203.3,1018 203.3,1015.9 203.3,1013.9 203.3,1011.9 203.3,1009.9 203.3,1007.9 203.3,1005.9 203.3,1003.9 203.3,1001.9 203.3,999.9 203.3,997.9 203.3,995.9 203.3,993.9 203.3,991.9 203.3,989.9 203.3,987.9 203.3,985.9 203.3,983.9 203.3,981.9 203.3,979.9 203.3,977.9 203.3,975.9 203.3,973.9 203.3,971.9 203.3,969.9 203.3,967.9 203.3,965.8 203.3,963.8 203.3,961.8 203.3,959.8 203.3,957.8 203.3,955.8 203.3,953.8 203.3,951.8 203.3,949.8 203.3,947.8 203.3,945.8 203.3,943.8 203.3,941.8" fill="url(#br3)" stroke="none"/>
<path d="M178.7 941.8L178.7 943.8L178.7 945.8L178.7 947.8L178.7 949.8L178.7 951.8L178.7 953.8L178.7 955.8L178.7 957.8L178.7 959.8L178.7 961.8L178.7 963.8L178.7 965.8L178.7 967.9L178.7 969.9L178.7 971.9L178.7 973.9L178.7 975.9L178.7 977.9L178.7 979.9L178.7 981.9L178.7 983.9L178.7 985.9L178.7 987.9L178.7 989.9L178.7 991.9L178.7 993.9L178.7 995.9L178.7 997.9L178.7 999.9L178.7 1001.9L178.7 1003.9L178.7 1005.9L178.7 1007.9L178.7 1009.9L178.7 1011.9L178.7 1013.9L178.7 1015.9L178.7 1018L178.7 1020L178.7 1022L178.7 1024L178.7 1026L178.7 1028L178.7 1030L178.7 1032L178.7 1034L178.7 1036L178.7 1038L178.7 1040L178.7 1042L178.7 1044L178.7 1046L178.7 1048L178.7 1050L178.7 1052L178.7 1054L178.7 1056L178.7 1058L178.7 1060L178.7 1062L178.7 1064.3L178.8 1066.9L179 1069.5L179.4 1072L179.9 1074.6L180.5 1077.1L181.2 1079.6L182 1082L183 1084.4L184 1086.8L185.2 1089.1L186.4 1091.3L187.8 1093.5L189.3 1095.6L190.8 1097.7L192.5 1099.6L194.3 1101.5L196.1 1103.3L198 1105.1L200 1106.7L202.1 1108.2L204.2 1109.7L206.4 1111L208.7 1112.2L211 1113.4L213.4 1114.4L215.8 1115.3L218.3 1116.1L220.8 1116.7L223.3 1117.3L225.8 1117.7L228.4 1118.1L230.9 1118.3L233.5 1118.3L235.6 1118.3L237.6 1118.3L239.6 1118.3L241.6 1118.3L243.6 1118.3L245.7 1118.3L247.7 1118.3L249.7 1118.3L251.7 1118.3L253.7 1118.3L255.7 1118.3L257.7 1118.3L259.7 1118.3L261.7 1118.3L263.7 1118.3L265.7 1118.3L267.7 1118.3L269.7 1118.3" stroke-width="2.53"/>
<path d="M203.3 941.8L203.3 943.8L203.3 945.8L203.3 947.8L203.3 949.8L203.3 951.8L203.3 953.8L203.3 955.8L203.3 957.8L203.3 959.8L203.3 961.8L203.3 963.8L203.3 965.8L203.3 967.9L203.3 969.9L203.3 971.9L203.3 973.9L203.3 975.9L203.3 977.9L203.3 979.9L203.3 981.9L203.3 983.9L203.3 985.9L203.3 987.9L203.3 989.9L203.3 991.9L203.3 993.9L203.3 995.9L203.3 997.9L203.3 999.9L203.3 1001.9L203.3 1003.9L203.3 1005.9L203.3 1007.9L203.3 1009.9L203.3 1011.9L203.3 1013.9L203.3 1015.9L203.3 1018L203.3 1020L203.3 1022L203.3 1024L203.3 1026L203.3 1028L203.3 1030L203.3 1032L203.3 1034L203.3 1036L203.3 1038L203.3 1040L203.3 1042L203.3 1044L203.3 1046L203.3 1048L203.3 1050L203.3 1052L203.3 1054L203.3 1056L203.3 1058L203.3 1060L203.3 1062L203.4 1063.7L203.4 1065.2L203.6 1066.6L203.8 1068L204 1069.4L204.4 1070.8L204.8 1072.2L205.2 1073.5L205.7 1074.9L206.3 1076.2L207 1077.4L207.7 1078.7L208.4 1079.9L209.2 1081.1L210.1 1082.2L211 1083.3L212 1084.3L213 1085.3L214.1 1086.3L215.2 1087.2L216.3 1088L217.5 1088.8L218.7 1089.6L220 1090.3L221.3 1090.9L222.6 1091.4L223.9 1091.9L225.3 1092.4L226.7 1092.8L228.1 1093.1L229.5 1093.3L230.9 1093.5L232.3 1093.6L233.7 1093.6L235.6 1093.6L237.6 1093.6L239.6 1093.6L241.6 1093.6L243.6 1093.6L245.7 1093.6L247.7 1093.6L249.7 1093.6L251.7 1093.6L253.7 1093.6L255.7 1093.6L257.7 1093.6L259.7 1093.6L261.7 1093.6L263.7 1093.6L265.7 1093.6L267.7 1093.6L269.7 1093.6" stroke-width="2.53"/>
<g transform="translate(191 941.8) rotate(-90)">
<path d="M0 -14.399999999999999 L8.5 -14.399999999999999 Q10.5 -14.399999999999999 11.5 -13.2 L27.5 -13.2 Q29 -13.2 30.5 -15.0 Q32 -15.799999999999999 33.5 -15.399999999999999 L35.8 -14.799999999999999 L35.8 14.799999999999999 L33.5 15.399999999999999 Q32 15.799999999999999 30.5 15.0 Q29 13.2 27.5 13.2 L11.5 13.2 Q10.5 14.399999999999999 8.5 14.399999999999999 L0 14.399999999999999 Z" stroke-width="2.42" fill="#fff"/>
<line x1="0" y1="-14.4" x2="0" y2="14.4" stroke-width="3.08"/>
<path d="M3.2 -8.6 L29.6 -8.6M3.2 -2.9 L29.6 -2.9M3.2 2.9 L29.6 2.9M3.2 8.6 L29.6 8.6" stroke-width="2.2" stroke-linecap="round"/>
<rect x="38" y="-19.5" width="23.3" height="39.0" rx="2.5" stroke-width="2" fill="#fff"/>
<path d="M38 -9.5 L61.3 -9.5 M38 9.5 L61.3 9.5" stroke-width="1.98"/>
</g>
<g transform="translate(269.7 1106) rotate(0)">
<path d="M0 -14.399999999999999 L8.5 -14.399999999999999 Q10.5 -14.399999999999999 11.5 -13.2 L27.5 -13.2 Q29 -13.2 30.5 -15.0 Q32 -15.799999999999999 33.5 -15.399999999999999 L35.8 -14.799999999999999 L35.8 14.799999999999999 L33.5 15.399999999999999 Q32 15.799999999999999 30.5 15.0 Q29 13.2 27.5 13.2 L11.5 13.2 Q10.5 14.399999999999999 8.5 14.399999999999999 L0 14.399999999999999 Z" stroke-width="2.42" fill="#fff"/>
<line x1="0" y1="-14.4" x2="0" y2="14.4" stroke-width="3.08"/>
<path d="M3.2 -8.6 L29.6 -8.6M3.2 -2.9 L29.6 -2.9M3.2 2.9 L29.6 2.9M3.2 8.6 L29.6 8.6" stroke-width="2.2" stroke-linecap="round"/>
<path d="M39.8 -27.8 L62.7 -27.8 C66.7 -12.5 66.7 12.5 62.7 27.8 L39.8 27.8 C36.6 12.5 36.6 -12.5 39.8 -27.8 Z" stroke-width="2.42" fill="#fff"/>
<path d="M39.8 -27.8 L62.7 -27.8 M39.8 27.8 L62.7 27.8" stroke-width="2.97"/>
<path d="M39.8 -27.8 Q41 0 39.8 27.8 M62.7 -27.8 Q61.5 0 62.7 27.8" stroke-width="1.65"/>
<path d="M40.4 0 L62.1 0 M39.8 -27.8 L62.1 0 L39.8 27.8 M62.7 -27.8 L40.4 0 L62.7 27.8" stroke-width="2.2"/>
</g>
<polygon points="169.8,1011.9 209.8,1007.4 209.2,1002.6 169.2,1007.1" fill="#fff" stroke="none"/>
<line x1="169.8" y1="1011.9" x2="209.8" y2="1007.4" stroke-width="1.98"/>
<line x1="169.2" y1="1007.1" x2="209.2" y2="1002.6" stroke-width="1.98"/>
</g>
<g id="gdims">
<line x1="6.8" y1="822.2" x2="52.9" y2="947" stroke-width="2.2"/>
<line x1="30.5" y1="898.2" x2="56" y2="888.8" stroke-width="2.2"/>
<line x1="47.8" y1="942.5" x2="74.3" y2="934" stroke-width="2.2"/>
<polygon points="33.2,897.2 44,914.6 35.9,917.5" fill="#575556" stroke="none"/>
<polygon points="50.5,941.5 39.7,924.1 47.8,921.2" fill="#575556" stroke="none"/>
<text class="g" transform="translate(10.2 821.6) rotate(70.2) scale(0.97 1.1)" font-size="24.5" text-anchor="start">G1/2</text>
<line x1="368.3" y1="819.7" x2="322.8" y2="945.2" stroke-width="2.2"/>
<line x1="344.9" y1="896" x2="325.2" y2="888.8" stroke-width="2.2"/>
<line x1="328.3" y1="940.3" x2="306.8" y2="933.2" stroke-width="2.2"/>
<polygon points="341.2,894.8 338.5,915.1 330.4,912.2" fill="#575556" stroke="none"/>
<polygon points="325.2,938.5 327.9,918.2 336,921.1" fill="#575556" stroke="none"/>
<text class="g" transform="translate(365.2 818.6) rotate(-70.2) scale(0.97 1.1)" font-size="24.5" text-anchor="end">G1/2</text>
</g>
<g id="spout-under">
<line x1="452.3" y1="764.3" x2="452.3" y2="833.5" stroke-width="2.2"/>
<line x1="550" y1="764.3" x2="550" y2="833.5" stroke-width="2.2"/>
<path d="M471.6 764.3 L471.6 858 M530.2 764.3 L530.2 858" stroke-width="3.74"/>
<path d="M471.6 769.3 L473.5 769.3 M530.2 769.3 L528.3 769.3M471.6 777.9 L473.5 777.9 M530.2 777.9 L528.3 777.9M471.6 786.5 L473.5 786.5 M530.2 786.5 L528.3 786.5M471.6 795.1 L473.5 795.1 M530.2 795.1 L528.3 795.1M471.6 803.7 L473.5 803.7 M530.2 803.7 L528.3 803.7M471.6 812.3 L473.5 812.3 M530.2 812.3 L528.3 812.3M471.6 820.9 L473.5 820.9 M530.2 820.9 L528.3 820.9M471.6 829.5 L473.5 829.5 M530.2 829.5 L528.3 829.5M471.6 838.1 L473.5 838.1 M530.2 838.1 L528.3 838.1M471.6 846.7 L473.5 846.7 M530.2 846.7 L528.3 846.7M471.6 855.3 L473.5 855.3 M530.2 855.3 L528.3 855.3" stroke-width="1.1" stroke="#fff"/>
<line x1="470" y1="858" x2="532" y2="858" stroke-width="2.42"/>
<rect x="453.5" y="833.5" width="16.5" height="5.5" stroke-width="1.76"/>
<path d="M453.5 833.5 L461.5 839.0 L470 833.5 M453.5 839.0 L461.5 833.5 L470 839.0" stroke-width="1.54"/>
<rect x="532" y="833.5" width="16.5" height="5.5" stroke-width="1.76"/>
<path d="M532 833.5 L540 839.0 L548.5 833.5 M532 839.0 L540 833.5 L548.5 839.0" stroke-width="1.54"/>
<line x1="445.5" y1="841" x2="470" y2="841" stroke-width="4.4" stroke-linecap="round"/>
<line x1="532" y1="841" x2="556.5" y2="841" stroke-width="4.4" stroke-linecap="round"/>
<path d="M458.5 843 L458.5 855.6 L470 855.6" stroke-width="2.2"/>
<path d="M543.3 843 L543.3 855.6 L532 855.6" stroke-width="2.2"/>
<path d="M470.8 858 L470.8 870 M531.2 858 L531.2 870" stroke-width="2.42"/>
<path d="M468.5 870 L533.8 870 L533.8 907 C533.8 916 526 920 524.8 929.5 M468.5 870 C469 880 475 890 477.5 905 C478.5 914 478.5 922 478.3 929.5" stroke-width="2.42"/>
<path d="M468.8 879 L429.2 879 L429.2 927 L478.3 927" stroke-width="2.42"/>
<rect x="430.3" y="880.2" width="18.6" height="45.6" stroke-width="2.42"/>
<rect x="433.2" y="882.4" width="14.2" height="41.4" stroke-width="1.98"/>
<pattern id="br4" patternUnits="userSpaceOnUse" x="501" y="1000" width="9.85" height="9.85"><path d="M-1 -1L10.85 10.85M10.85 -1L-1 10.85" stroke-width="2.15" stroke="#575556"/></pattern>
<polygon points="488.6,994 488.6,996 488.6,998 488.6,1000 488.6,1002 488.6,1004 488.6,1006 488.6,1008 488.6,1010 488.6,1012 488.6,1014 488.6,1016 488.6,1018 488.6,1020 488.6,1022 488.6,1024 488.6,1026 488.6,1028 488.7,1030.3 488.8,1032.9 489,1035.4 489.3,1037.9 489.8,1040.4 490.4,1042.9 491,1045.4 491.8,1047.8 492.7,1050.2 493.7,1052.6 494.8,1054.9 496,1057.1 497.3,1059.3 498.7,1061.4 500.2,1063.5 501.8,1065.5 503.4,1067.4 505.2,1069.3 507,1071.1 508.9,1072.8 510.9,1074.4 513,1075.9 515.1,1077.3 517.3,1078.6 519.5,1079.9 521.8,1081 524.1,1082 526.5,1082.9 528.9,1083.7 531.4,1084.5 533.9,1085 536.4,1085.5 538.9,1085.9 541.4,1086.2 544,1086.3 546.4,1086.3 548.4,1086.3 550.4,1086.3 552.4,1086.3 554.4,1086.3 556.4,1086.3 558.4,1086.3 560.4,1086.3 562.4,1086.3 564.4,1086.3 566.4,1086.3 568.4,1086.3 570.4,1086.3 572.4,1086.3 574.4,1086.3 576.4,1086.3 578.4,1086.3 580.4,1086.3 582.4,1086.3 584.4,1086.3 586.4,1086.3 588.4,1086.3 590.4,1086.3 592.4,1086.3 594.4,1086.3 596.4,1086.3 598.4,1086.3 600.4,1086.3 602.4,1086.3 604.5,1086.3 606.5,1086.3 608.5,1086.3 610.5,1086.3 612.5,1086.3 614.5,1086.3 616.5,1086.3 618.5,1086.3 620.5,1086.3 622.5,1086.3 624.5,1086.3 626.5,1086.3 628.5,1086.3 630.5,1086.3 632.5,1086.3 634.5,1086.3 636.5,1086.3 638.5,1086.3 640.5,1086.3 642.5,1086.3 644.5,1086.3 646.5,1086.3 648.5,1086.3 650.5,1086.3 652.5,1086.3 654.5,1086.3 656.5,1086.3 658.5,1086.3 660.5,1086.3 662.5,1086.3 664.5,1086.3 664.5,1061.7 662.5,1061.7 660.5,1061.7 658.5,1061.7 656.5,1061.7 654.5,1061.7 652.5,1061.7 650.5,1061.7 648.5,1061.7 646.5,1061.7 644.5,1061.7 642.5,1061.7 640.5,1061.7 638.5,1061.7 636.5,1061.7 634.5,1061.7 632.5,1061.7 630.5,1061.7 628.5,1061.7 626.5,1061.7 624.5,1061.7 622.5,1061.7 620.5,1061.7 618.5,1061.7 616.5,1061.7 614.5,1061.7 612.5,1061.7 610.5,1061.7 608.5,1061.7 606.5,1061.7 604.5,1061.7 602.4,1061.7 600.4,1061.7 598.4,1061.7 596.4,1061.7 594.4,1061.7 592.4,1061.7 590.4,1061.7 588.4,1061.7 586.4,1061.7 584.4,1061.7 582.4,1061.7 580.4,1061.7 578.4,1061.7 576.4,1061.7 574.4,1061.7 572.4,1061.7 570.4,1061.7 568.4,1061.7 566.4,1061.7 564.4,1061.7 562.4,1061.7 560.4,1061.7 558.4,1061.7 556.4,1061.7 554.4,1061.7 552.4,1061.7 550.4,1061.7 548.4,1061.7 546.4,1061.7 544.8,1061.6 543.4,1061.5 541.9,1061.4 540.5,1061.2 539.1,1060.9 537.7,1060.6 536.3,1060.2 534.9,1059.7 533.5,1059.2 532.2,1058.6 530.9,1058 529.6,1057.3 528.4,1056.5 527.2,1055.7 526,1054.8 524.9,1053.9 523.8,1053 522.8,1051.9 521.8,1050.9 520.8,1049.8 519.9,1048.6 519.1,1047.5 518.3,1046.3 517.5,1045 516.9,1043.7 516.2,1042.4 515.7,1041.1 515.2,1039.7 514.7,1038.3 514.3,1036.9 514,1035.5 513.7,1034.1 513.6,1032.6 513.4,1031.2 513.4,1029.7 513.4,1028 513.4,1026 513.4,1024 513.4,1022 513.4,1020 513.4,1018 513.4,1016 513.4,1014 513.4,1012 513.4,1010 513.4,1008 513.4,1006 513.4,1004 513.4,1002 513.4,1000 513.4,998 513.4,996 513.4,994" fill="url(#br4)" stroke="none"/>
<path d="M488.6 994L488.6 996L488.6 998L488.6 1000L488.6 1002L488.6 1004L488.6 1006L488.6 1008L488.6 1010L488.6 1012L488.6 1014L488.6 1016L488.6 1018L488.6 1020L488.6 1022L488.6 1024L488.6 1026L488.6 1028L488.7 1030.3L488.8 1032.9L489 1035.4L489.3 1037.9L489.8 1040.4L490.4 1042.9L491 1045.4L491.8 1047.8L492.7 1050.2L493.7 1052.6L494.8 1054.9L496 1057.1L497.3 1059.3L498.7 1061.4L500.2 1063.5L501.8 1065.5L503.4 1067.4L505.2 1069.3L507 1071.1L508.9 1072.8L510.9 1074.4L513 1075.9L515.1 1077.3L517.3 1078.6L519.5 1079.9L521.8 1081L524.1 1082L526.5 1082.9L528.9 1083.7L531.4 1084.5L533.9 1085L536.4 1085.5L538.9 1085.9L541.4 1086.2L544 1086.3L546.4 1086.3L548.4 1086.3L550.4 1086.3L552.4 1086.3L554.4 1086.3L556.4 1086.3L558.4 1086.3L560.4 1086.3L562.4 1086.3L564.4 1086.3L566.4 1086.3L568.4 1086.3L570.4 1086.3L572.4 1086.3L574.4 1086.3L576.4 1086.3L578.4 1086.3L580.4 1086.3L582.4 1086.3L584.4 1086.3L586.4 1086.3L588.4 1086.3L590.4 1086.3L592.4 1086.3L594.4 1086.3L596.4 1086.3L598.4 1086.3L600.4 1086.3L602.4 1086.3L604.5 1086.3L606.5 1086.3L608.5 1086.3L610.5 1086.3L612.5 1086.3L614.5 1086.3L616.5 1086.3L618.5 1086.3L620.5 1086.3L622.5 1086.3L624.5 1086.3L626.5 1086.3L628.5 1086.3L630.5 1086.3L632.5 1086.3L634.5 1086.3L636.5 1086.3L638.5 1086.3L640.5 1086.3L642.5 1086.3L644.5 1086.3L646.5 1086.3L648.5 1086.3L650.5 1086.3L652.5 1086.3L654.5 1086.3L656.5 1086.3L658.5 1086.3L660.5 1086.3L662.5 1086.3L664.5 1086.3" stroke-width="2.53"/>
<path d="M513.4 994L513.4 996L513.4 998L513.4 1000L513.4 1002L513.4 1004L513.4 1006L513.4 1008L513.4 1010L513.4 1012L513.4 1014L513.4 1016L513.4 1018L513.4 1020L513.4 1022L513.4 1024L513.4 1026L513.4 1028L513.4 1029.7L513.4 1031.2L513.6 1032.6L513.7 1034.1L514 1035.5L514.3 1036.9L514.7 1038.3L515.2 1039.7L515.7 1041.1L516.2 1042.4L516.9 1043.7L517.5 1045L518.3 1046.3L519.1 1047.5L519.9 1048.6L520.8 1049.8L521.8 1050.9L522.8 1051.9L523.8 1053L524.9 1053.9L526 1054.8L527.2 1055.7L528.4 1056.5L529.6 1057.3L530.9 1058L532.2 1058.6L533.5 1059.2L534.9 1059.7L536.3 1060.2L537.7 1060.6L539.1 1060.9L540.5 1061.2L541.9 1061.4L543.4 1061.5L544.8 1061.6L546.4 1061.7L548.4 1061.7L550.4 1061.7L552.4 1061.7L554.4 1061.7L556.4 1061.7L558.4 1061.7L560.4 1061.7L562.4 1061.7L564.4 1061.7L566.4 1061.7L568.4 1061.7L570.4 1061.7L572.4 1061.7L574.4 1061.7L576.4 1061.7L578.4 1061.7L580.4 1061.7L582.4 1061.7L584.4 1061.7L586.4 1061.7L588.4 1061.7L590.4 1061.7L592.4 1061.7L594.4 1061.7L596.4 1061.7L598.4 1061.7L600.4 1061.7L602.4 1061.7L604.5 1061.7L606.5 1061.7L608.5 1061.7L610.5 1061.7L612.5 1061.7L614.5 1061.7L616.5 1061.7L618.5 1061.7L620.5 1061.7L622.5 1061.7L624.5 1061.7L626.5 1061.7L628.5 1061.7L630.5 1061.7L632.5 1061.7L634.5 1061.7L636.5 1061.7L638.5 1061.7L640.5 1061.7L642.5 1061.7L644.5 1061.7L646.5 1061.7L648.5 1061.7L650.5 1061.7L652.5 1061.7L654.5 1061.7L656.5 1061.7L658.5 1061.7L660.5 1061.7L662.5 1061.7L664.5 1061.7" stroke-width="2.53"/>
<g transform="translate(501 994) rotate(-90)">
<path d="M0 -14.399999999999999 L8.5 -14.399999999999999 Q10.5 -14.399999999999999 11.5 -13.2 L27.5 -13.2 Q29 -13.2 30.5 -15.0 Q32 -15.799999999999999 33.5 -15.399999999999999 L35.8 -14.799999999999999 L35.8 14.799999999999999 L33.5 15.399999999999999 Q32 15.799999999999999 30.5 15.0 Q29 13.2 27.5 13.2 L11.5 13.2 Q10.5 14.399999999999999 8.5 14.399999999999999 L0 14.399999999999999 Z" stroke-width="2.42" fill="#fff"/>
<line x1="0" y1="-14.4" x2="0" y2="14.4" stroke-width="3.08"/>
<path d="M3.2 -8.6 L29.6 -8.6M3.2 -2.9 L29.6 -2.9M3.2 2.9 L29.6 2.9M3.2 8.6 L29.6 8.6" stroke-width="2.2" stroke-linecap="round"/>
<path d="M39.8 -27.8 L62.7 -27.8 C66.7 -12.5 66.7 12.5 62.7 27.8 L39.8 27.8 C36.6 12.5 36.6 -12.5 39.8 -27.8 Z" stroke-width="2.42" fill="#fff"/>
<path d="M39.8 -27.8 L62.7 -27.8 M39.8 27.8 L62.7 27.8" stroke-width="2.97"/>
<path d="M39.8 -27.8 Q41 0 39.8 27.8 M62.7 -27.8 Q61.5 0 62.7 27.8" stroke-width="1.65"/>
<path d="M40.4 0 L62.1 0 M39.8 -27.8 L62.1 0 L39.8 27.8 M62.7 -27.8 L40.4 0 L62.7 27.8" stroke-width="2.2"/>
</g>
<g transform="translate(664.5 1074) rotate(0)">
<path d="M0 -14.399999999999999 L8.5 -14.399999999999999 Q10.5 -14.399999999999999 11.5 -13.2 L27.5 -13.2 Q29 -13.2 30.5 -15.0 Q32 -15.799999999999999 33.5 -15.399999999999999 L35.8 -14.799999999999999 L35.8 14.799999999999999 L33.5 15.399999999999999 Q32 15.799999999999999 30.5 15.0 Q29 13.2 27.5 13.2 L11.5 13.2 Q10.5 14.399999999999999 8.5 14.399999999999999 L0 14.399999999999999 Z" stroke-width="2.42" fill="#fff"/>
<line x1="0" y1="-14.4" x2="0" y2="14.4" stroke-width="3.08"/>
<path d="M3.2 -8.6 L29.6 -8.6M3.2 -2.9 L29.6 -2.9M3.2 2.9 L29.6 2.9M3.2 8.6 L29.6 8.6" stroke-width="2.2" stroke-linecap="round"/>
<path d="M40.2 -23.7 L62.4 -23.7 C66.2 -10.7 66.2 10.7 62.4 23.7 L40.2 23.7 C37.2 10.7 37.2 -10.7 40.2 -23.7 Z" stroke-width="2.42" fill="#fff"/>
<path d="M40.2 -23.7 L62.4 -23.7 M40.2 23.7 L62.4 23.7" stroke-width="2.97"/>
<path d="M40.2 -23.7 Q41.4 0 40.2 23.7 M62.4 -23.7 Q61.2 0 62.4 23.7" stroke-width="1.65"/>
<path d="M40.8 0 L61.8 0 M40.2 -23.7 L61.8 0 L40.2 23.7 M62.4 -23.7 L40.8 0 L62.4 23.7" stroke-width="2.2"/>
</g>
<polygon points="599.2,1094.3 603.2,1055.3 597.8,1054.7 593.8,1093.7" fill="#fff" stroke="none"/>
<line x1="599.2" y1="1094.3" x2="603.2" y2="1055.3" stroke-width="1.98"/>
<line x1="593.8" y1="1093.7" x2="597.8" y2="1054.7" stroke-width="1.98"/>
<line x1="408.3" y1="872.3" x2="408.3" y2="1018" stroke-width="2.2"/>
<line x1="403.6" y1="879" x2="430" y2="879" stroke-width="2.2"/>
<line x1="403.6" y1="927" x2="430" y2="927" stroke-width="2.2"/>
<polygon points="408.3,879 412.6,899 404,899" fill="#575556" stroke="none"/>
<polygon points="408.3,927 404,907 412.6,907" fill="#575556" stroke="none"/>
<text class="g" transform="translate(405 1015.5) rotate(-90) scale(0.97 1.1)" font-size="24.5" text-anchor="start">G1/2</text>
<path d="M338.3 1105.8 L362 1105.8 Q373.6 1105.8 373.6 1094 L373.6 1026 M373.6 1012 L373.6 997 M373.6 982 L373.6 914.5 Q373.6 903 385 903 L429.2 903" stroke-width="2.31" stroke-linecap="round"/>
</g>
<g id="connector">
<rect x="731" y="1057.1" width="16.7" height="32.9" stroke-width="2.42"/>
<rect x="736.7" y="1066" width="11" height="14.8" stroke-width="2.31"/>
<path d="M737.5 1067 L747 1080 M747 1067 L737.5 1080" stroke-width="1.43"/>
<path d="M747.7 1061.2 L750.8 1061.2 M747.7 1087.1 L750.8 1087.1" stroke-width="2.2"/>
<rect x="751" y="1054.8" width="35.7" height="38.1" rx="2" stroke-width="2.5" fill="#fff"/>
<path d="M786.7 1055.4 L795 1055.4 L796 1056.9 L799.4 1056.9 L800.4 1055.4 L809.3 1055.4 L810.3 1056.9 L813.7 1056.9 L814.7 1055.4 L823.6 1055.4 L824.6 1056.9 L828 1056.9 L829 1055.4 L837.9 1055.4 L838.9 1056.9 L842.3 1056.9 L843.3 1055.4 L851.5 1055.4 L851.5 1091.8" stroke-width="2.42"/>
<path d="M786.7 1091.8 L804.2 1091.8 L805.2 1090.3 L808.6 1090.3 L809.6 1091.8 L818.5 1091.8 L819.5 1090.3 L822.9 1090.3 L823.9 1091.8 L832.8 1091.8 L833.8 1090.3 L837.2 1090.3 L838.2 1091.8 L847.1 1091.8 L848.1 1090.3 L851.5 1090.3 L852.5 1091.8 L851.5 1091.8" stroke-width="2.42"/>
<clipPath id="spc"><rect x="786.6" y="1055" width="65" height="37.4"/></clipPath>
<path d="M787.5 1056 L796.7 1091.2 M795.5 1056.5 L804.7 1090.7 M799.9 1056.5 L809.1 1090.7 M809.8 1056.5 L819 1090.7 M814.2 1056.5 L823.4 1090.7 M824.1 1056.5 L833.3 1090.7 M828.5 1056.5 L837.7 1090.7 M838.4 1056.5 L847.6 1090.7 M842.8 1056.5 L852 1090.7" stroke-width="2.2" clip-path="url(#spc)"/>
<path d="M852 1073.7 L898.4 1073.7 M912.5 1073.7 L928.5 1073.7 M942.6 1073.7 L1015.9 1073.7 M1029.3 1073.7 L1045.2 1073.7 M1058.7 1073.7 L1108 1073.7 Q1130.2 1073.7 1130.2 1051.5 L1130.2 989 M1130.2 975.7 L1130.2 959.8 M1130.2 945.6 L1130.2 885.5" stroke-width="2.2"/>
</g>
<g id="holder-under">
<line x1="1089.3" y1="764.3" x2="1089.3" y2="833.5" stroke-width="2.31"/>
<line x1="1169.5" y1="764.3" x2="1169.5" y2="833.5" stroke-width="2.31"/>
<path d="M1101.3 773 L1101.3 833.5 M1158 773 L1158 833.5" stroke-width="3.74"/>
<path d="M1101.3 778 L1103.2 778 M1158 778 L1156.1 778M1101.3 786.6 L1103.2 786.6 M1158 786.6 L1156.1 786.6M1101.3 795.2 L1103.2 795.2 M1158 795.2 L1156.1 795.2M1101.3 803.8 L1103.2 803.8 M1158 803.8 L1156.1 803.8M1101.3 812.4 L1103.2 812.4 M1158 812.4 L1156.1 812.4M1101.3 821 L1103.2 821 M1158 821 L1156.1 821M1101.3 829.6 L1103.2 829.6 M1158 829.6 L1156.1 829.6" stroke-width="1.1" stroke="#fff"/>
<line x1="1099.8" y1="773" x2="1159.6" y2="773" stroke-width="2.42"/>
<path d="M1083.2 833.5 L1083.2 839.3 M1176 833.5 L1176 839.3" stroke-width="2.31"/>
<rect x="1071.3" y="839.3" width="116.4" height="4.9" rx="2.4" stroke-width="2" fill="#b5b5b5"/>
<path d="M1087.4 844.2 L1087.4 856.2 L1171.6 856.2 L1171.6 844.2 M1109 844.2 L1109 856.2 M1150.4 844.2 L1150.4 856.2" stroke-width="2.31"/>
<path d="M1101.3 856.2 L1101.3 883.6 M1158 856.2 L1158 883.6" stroke-width="3.96"/>
<path d="M1101.3 861.2 L1103.3 861.2 M1158 861.2 L1156 861.2M1101.3 869.8 L1103.3 869.8 M1158 869.8 L1156 869.8M1101.3 878.4 L1103.3 878.4 M1158 878.4 L1156 878.4" stroke-width="1.1" stroke="#fff"/>
<path d="M1101.3 881 Q1101.3 884 1104 884 L1155.3 884 Q1158 884 1158 881" stroke-width="3.63"/>
</g>
</svg>
</body></html>
